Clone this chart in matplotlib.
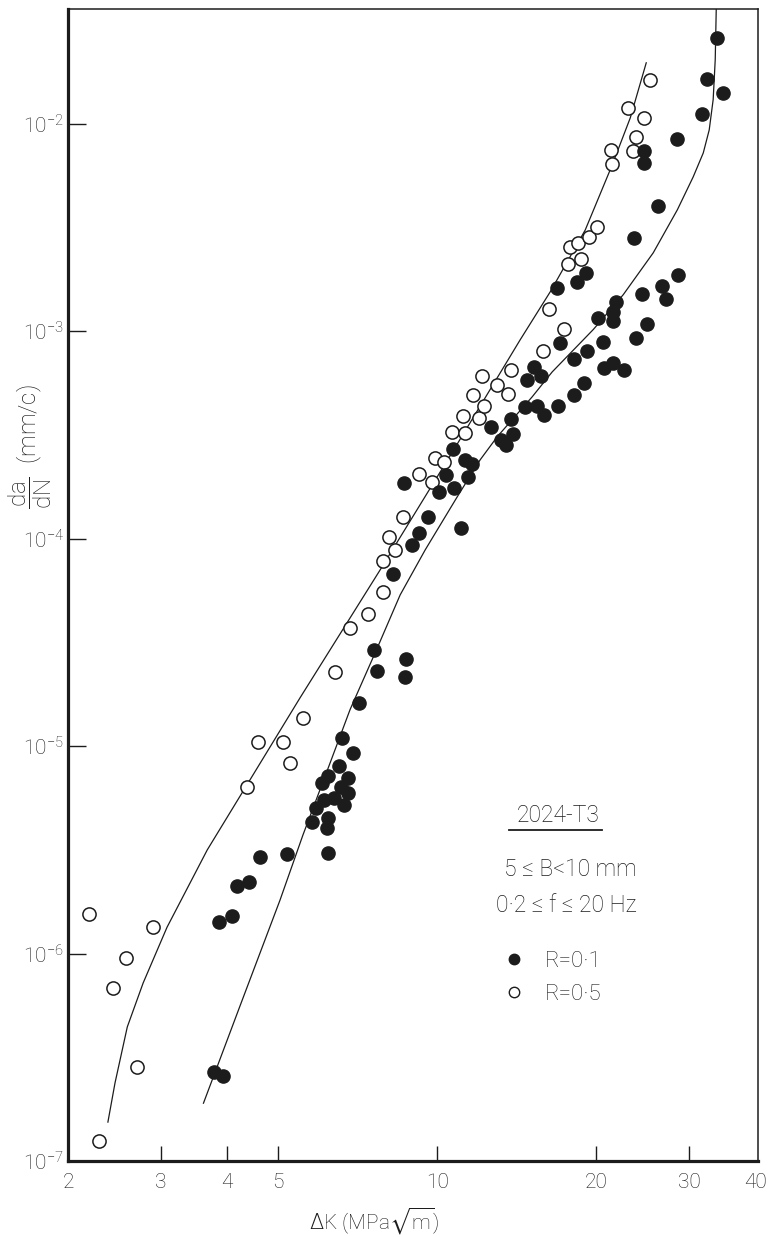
import numpy as np
import matplotlib.pyplot as plt
from matplotlib.lines import Line2D
from matplotlib.ticker import NullLocator

plt.rcParams['font.family'] = ['Roboto', 'DejaVu Sans']
plt.rcParams['font.weight'] = 'light'
plt.rcParams['mathtext.fontset'] = 'dejavusans'

INK = '#1c1c1c'

# R = 0.1 (filled circles)
K_r01 = [3.78, 3.93, 3.87, 4.09, 4.18, 4.40, 4.62, 5.20, 6.22, 5.80, 6.19, 6.22, 5.90,
         6.11, 6.38, 6.67, 6.78, 6.58, 6.78, 6.06, 6.22, 6.52, 6.93, 6.61, 7.12, 7.70,
         7.60, 8.25, 8.74, 8.70, 8.66, 8.97, 9.24, 9.62, 10.09, 10.40, 10.77, 10.72,
         11.30, 11.65, 11.45, 12.66, 11.10, 13.22, 13.51, 13.81, 13.93, 14.68, 15.47,
         15.95, 14.81, 15.26, 15.74, 16.95, 18.17, 18.98, 17.10, 18.17, 19.23, 20.63,
         20.72, 21.54, 22.61, 20.18, 21.54, 21.54, 21.83, 23.82, 24.99, 24.45, 26.68,
         27.15, 28.61, 16.88, 18.41, 19.15, 23.61, 26.22, 24.66, 24.66, 28.49, 31.76,
         32.46, 34.82, 33.92]
dadn_r01 = [2.69e-7, 2.57e-7, 1.42e-6, 1.52e-6, 2.12e-6, 2.21e-6, 2.92e-6, 3.02e-6,
            3.05e-6, 4.31e-6, 4.04e-6, 4.51e-6, 5.04e-6, 5.51e-6, 5.62e-6, 5.20e-6,
            5.94e-6, 6.35e-6, 7.03e-6, 6.65e-6, 7.18e-6, 8.04e-6, 9.27e-6, 1.10e-5,
            1.61e-5, 2.31e-5, 2.91e-5, 6.76e-5, 2.63e-5, 2.16e-5, 1.86e-4, 9.33e-5,
            1.07e-4, 1.27e-4, 1.68e-4, 2.03e-4, 1.76e-4, 2.71e-4, 2.40e-4, 2.30e-4,
            1.99e-4, 3.46e-4, 1.13e-4, 2.99e-4, 2.83e-4, 3.78e-4, 3.20e-4, 4.32e-4,
            4.37e-4, 3.95e-4, 5.83e-4, 6.73e-4, 6.09e-4, 4.37e-4, 4.93e-4, 5.64e-4,
            8.79e-4, 7.36e-4, 8.04e-4, 8.89e-4, 6.67e-4, 7.05e-4, 6.52e-4, 1.16e-3,
            1.12e-3, 1.24e-3, 1.39e-3, 9.29e-4, 1.09e-3, 1.51e-3, 1.66e-3, 1.43e-3,
            1.87e-3, 1.62e-3, 1.73e-3, 1.91e-3, 2.82e-3, 4.03e-3, 6.49e-3, 7.41e-3,
            8.47e-3, 1.12e-2, 1.65e-2, 1.41e-2, 2.60e-2]

# R = 0.5 (open circles)
K_r05 = [2.19, 2.29, 2.43, 2.58, 2.70, 2.90, 4.37, 4.58, 5.11, 5.27, 5.58, 6.41, 6.84,
         7.40, 7.90, 7.90, 8.11, 8.33, 8.62, 9.24, 9.78, 9.91, 10.31, 10.68, 11.30,
         11.20, 12.01, 11.70, 12.28, 12.17, 12.99, 13.63, 13.81, 15.88, 17.40, 16.30,
         17.71, 18.74, 17.86, 18.49, 19.41, 20.09, 21.45, 21.36, 23.50, 23.82, 23.00,
         24.66, 25.32]
dadn_r05 = [1.55e-6, 1.25e-7, 6.82e-7, 9.53e-7, 2.84e-7, 1.34e-6, 6.35e-6, 1.05e-5,
            1.05e-5, 8.30e-6, 1.37e-5, 2.28e-5, 3.72e-5, 4.34e-5, 5.53e-5, 7.82e-5,
            1.02e-4, 8.83e-5, 1.27e-4, 2.05e-4, 1.88e-4, 2.45e-4, 2.34e-4, 3.27e-4,
            3.24e-4, 3.91e-4, 3.82e-4, 4.93e-4, 4.37e-4, 6.10e-4, 5.52e-4, 4.99e-4,
            6.52e-4, 8.04e-4, 1.03e-3, 1.28e-3, 2.11e-3, 2.23e-3, 2.55e-3, 2.67e-3,
            2.85e-3, 3.18e-3, 6.41e-3, 7.50e-3, 7.41e-3, 8.65e-3, 1.19e-2, 1.07e-2,
            1.63e-2]

# hand-drawn trend lines
K_fit05 = [2.38, 2.455, 2.59, 2.775, 3.08, 3.67, 5.50, 7.80, 10.58, 14.36, 16.37, 19.07,
           21.45, 23.21, 24.88]
dadn_fit05 = [1.54e-7, 2.38e-7, 4.43e-7, 7.21e-7, 1.34e-6, 3.16e-6, 1.71e-5, 7.08e-5,
              2.51e-4, 9.10e-4, 1.55e-3, 3.08e-3, 6.34e-3, 1.07e-2, 1.97e-2]
K_fit01 = [3.61, 4.24, 5.04, 5.57, 6.27, 6.84, 7.70, 8.51, 9.49, 10.91, 12.06, 12.99,
           15.13, 16.51, 19.75, 22.50, 25.65, 28.49, 30.53, 31.90, 32.74, 33.31, 33.61,
           33.76]
dadn_fit01 = [1.90e-7, 5.65e-7, 1.81e-6, 3.73e-6, 8.30e-6, 1.50e-5, 2.97e-5, 5.36e-5,
              8.83e-5, 1.59e-4, 2.40e-4, 3.10e-4, 4.83e-4, 6.37e-4, 1.02e-3, 1.50e-3,
              2.39e-3, 3.85e-3, 5.55e-3, 7.24e-3, 9.35e-3, 1.31e-2, 2.04e-2, 3.58e-2]

xticks = [2, 3, 4, 5, 10, 20, 30, 40]
xticklabels = ['2', '3', '4', '5', '10', '20', '30', '40']
yticks = [1e-7, 1e-6, 1e-5, 1e-4, 1e-3, 1e-2]
yticklabels = [r'$\mathregular{10^{-7}}$', r'$\mathregular{10^{-6}}$', r'$\mathregular{10^{-5}}$',
               r'$\mathregular{10^{-4}}$', r'$\mathregular{10^{-3}}$', r'$\mathregular{10^{-2}}$']

W, H = 773, 1237
fig = plt.figure(figsize=(W / 100, H / 100), dpi=100)
ax = fig.add_axes([68 / W, 1 - 1161 / H, 690 / W, 1152 / H])

ax.plot(K_fit05, dadn_fit05, color=INK, lw=0.9, zorder=1)
ax.plot(K_fit01, dadn_fit01, color=INK, lw=0.9, zorder=1)
ax.plot(K_r01, dadn_r01, 'o', color=INK, ms=9.5, zorder=3)
ax.plot(K_r05, dadn_r05, 'o', mfc='white', mec=INK, mew=1.1, ms=9.5, zorder=2)

ax.set_xscale('log')
ax.set_yscale('log')
ax.set_xlim(2.0, 40.5)
ax.set_ylim(1e-7, 0.0358)
ax.set_xticks(xticks, labels=xticklabels)
ax.set_yticks(yticks, labels=yticklabels)
ax.xaxis.set_minor_locator(NullLocator())
ax.yaxis.set_minor_locator(NullLocator())
ax.tick_params(axis='x', direction='in', length=11, width=1.0, pad=9,
               labelsize=15, colors=INK)
ax.tick_params(axis='y', direction='in', length=13, width=1.0, pad=3,
               labelsize=15, colors=INK)
xt = ax.xaxis.get_major_ticks()
xt[0].tick1line.set_visible(False)
xt[-1].tick1line.set_visible(False)
ax.yaxis.get_major_ticks()[0].tick1line.set_visible(False)

for side, lw in [('left', 2.3), ('bottom', 2.3), ('top', 1.1), ('right', 1.1)]:
    ax.spines[side].set_linewidth(lw)
    ax.spines[side].set_color(INK)

fig.text(30 / W, 1 - 447 / H, r'$\dfrac{\mathregular{da}}{\mathregular{dN}}$  (mm/c)',
         rotation=90, ha='center', va='center', fontsize=17.5, color=INK)
fig.text(374 / W, 1 - 1221 / H, r'$\Delta$K (MPa$\sqrt{\mathregular{m}}$)',
         ha='center', va='center', fontsize=15, color=INK)

# annotation block
fig.text(558 / W, 1 - 815 / H, '2024-T3', ha='center', va='center', fontsize=16.5, color=INK)
fig.add_artist(Line2D([509 / W, 602 / W], [1 - 830 / H, 1 - 830 / H], color=INK, lw=1.3))
fig.text(570 / W, 1 - 870 / H, '5 ≤ B<10 mm', ha='center', va='center', fontsize=16.5, color=INK)
fig.text(566 / W, 1 - 905 / H, '0·2 ≤ f ≤ 20 Hz', ha='center', va='center', fontsize=16.5, color=INK)

handles = [Line2D([], [], ls='', marker='o', color=INK, ms=7.5),
           Line2D([], [], ls='', marker='o', mfc='white', mec=INK, mew=1.0, ms=7.5)]
ax.legend(handles, ['R=0·1', 'R=0·5'], loc='upper left', bbox_to_anchor=(503 / W, 1 - 951 / H),
          bbox_transform=fig.transFigure, frameon=False, fontsize=16, borderpad=0,
          borderaxespad=0, handlelength=0.95, handletextpad=0.95, labelspacing=0.55,
          labelcolor=INK)

fig.savefig('out.png', dpi=100)
